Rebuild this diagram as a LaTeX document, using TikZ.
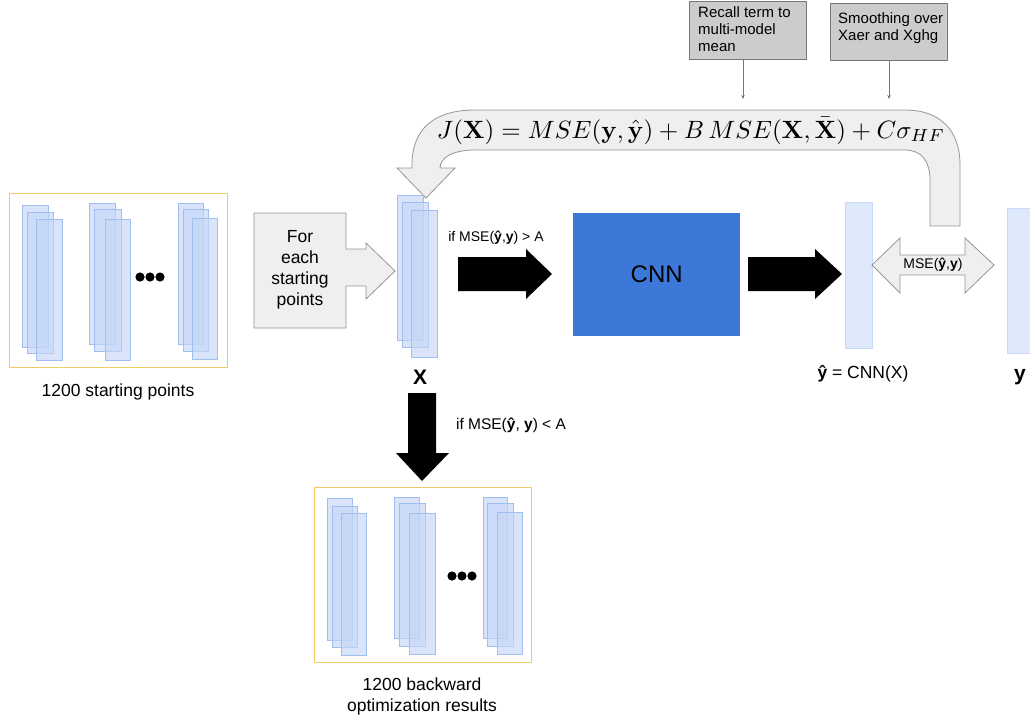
\documentclass[tikz,border=0pt]{standalone}
\usepackage[no-math]{fontspec}
\setmainfont{Liberation Sans}
\usepackage{graphicx}
\usetikzlibrary{arrows.meta}
\definecolor{stackfill}{RGB}{196,214,247}
\definecolor{stackline}{RGB}{160,190,240}
\definecolor{vecfill}{RGB}{221,232,251}
\definecolor{vecline}{RGB}{201,218,248}
\definecolor{yellowline}{RGB}{240,205,100}
\definecolor{arrowgray}{RGB}{239,239,239}
\definecolor{arrowline}{RGB}{150,150,150}
\definecolor{notegray}{RGB}{204,204,204}
\definecolor{noteline}{RGB}{120,120,120}
\definecolor{cnnblue}{RGB}{60,120,216}
\newcommand{\fsz}[2]{\fontsize{#1}{#2}\selectfont}
\newcommand{\srect}[4]{\draw[stackrect] (#1,#2) rectangle (#3,#4);}
\newcommand{\threedots}[2]{\fill (#1-10,#2) circle (4.6) (#1,#2) circle (4.6) (#1+10,#2) circle (4.6);}
\tikzset{
  stackrect/.style={draw=stackline, line width=0.8pt, fill=stackfill, fill opacity=0.65},
  vecbox/.style={draw=vecline, line width=0.8pt, fill=vecfill},
  groupbox/.style={draw=yellowline, line width=1pt},
  grayarrow/.style={draw=arrowline, line width=0.8pt, fill=arrowgray},
  blackarrow/.style={fill=black},
  notebox/.style={draw=noteline, line width=0.8pt, fill=notegray, align=left, anchor=north west,
    inner sep=0pt, font=\fsz{14.5}{17}},
  noteline/.style={draw=noteline, line width=0.8pt, -{Stealth[length=4pt,width=3.5pt]}},
  lbl/.style={font=\fsz{17.5}{21}, align=center, inner sep=0pt},
  smalllbl/.style={font=\fsz{14}{17}, inner sep=0pt},
}
\begin{document}
\begin{tikzpicture}[x=1pt,y=-1pt]
\useasboundingbox (0,0) rectangle (1030,720);
\clip (0,0) rectangle (1030,720);

% notes at top
\node[notebox, minimum width=117pt, minimum height=58pt] (note1) at (689,1) {};
\node[font=\fsz{15}{17}, align=left, anchor=north west, inner sep=0pt] (note1t) at (698,6) {Recall term to\\multi-model\\mean};
\node[notebox, minimum width=117pt, minimum height=57pt] (note2) at (830,3) {};
\node[font=\fsz{15}{17}, align=left, anchor=north west, inner sep=0pt] (note2t) at (838,12) {Smoothing over\\Xaer and Xghg};
\coordinate (n1end) at (743,99);
\coordinate (n2end) at (889,99);
\draw[noteline] (note1.south -| n1end) -- (n1end);
\draw[noteline] (note2.south -| n2end) -- (n2end);

% big curved feedback arrow
\draw[grayarrow] (426,198) -- (397,168) -- (412,168) -- (412,165)
  .. controls (412,128) and (435,110) .. (475,110) -- (905,110)
  .. controls (940,110) and (960,130) .. (960,165) -- (960,226) -- (930,226) -- (930,180)
  .. controls (930,162) and (922,150) .. (905,150) -- (475,150)
  .. controls (452,150) and (440,158) .. (440,168) -- (455,168) -- cycle;
\node (formula) at (691,131) {\resizebox{508pt}{!}{$J(\mathbf{X}) = MSE(\mathbf{y},\hat{\mathbf{y}}) + B\,MSE(\mathbf{X},\bar{\mathbf{X}}) + C\sigma_{HF}$}};

% left group box
\node[groupbox, minimum width=218pt, minimum height=174pt, anchor=north west, inner sep=0pt] (startbox) at (9,193) {};
\srect{22}{205}{48}{347}\srect{27}{212}{53}{353}\srect{36}{219}{62}{360}
\srect{89}{203}{115}{344}\srect{94}{209}{121}{351}\srect{105}{219}{130}{360}
\srect{178}{203}{203}{344}\srect{183}{209}{208}{351}\srect{192}{218}{217}{359}
\threedots{150}{277}
\node[lbl] (startlbl) at (118,392) {1200 starting points};

% for each arrow callout
\draw[grayarrow] (254,213) -- (346,213) -- (346,249) -- (366,249) -- (366,243) -- (395,271)
  -- (366,299) -- (366,286) -- (346,286) -- (346,328) -- (254,328) -- cycle;
\node[lbl] (foreach) at (300,270) {For\\each\\starting\\points};

% X stack
\srect{397}{195}{423}{340}\srect{402}{202}{428}{347}\srect{411}{210}{437}{357}
\node[font=\fsz{21}{24}\bfseries, inner sep=0pt] (xlbl) at (420,377) {X};

% arrow to CNN
\fill[blackarrow] (458,257) -- (526,257) -- (526,249) -- (552,274) -- (526,299) -- (526,291) -- (458,291) -- cycle;
\node[smalllbl] (cond1) at (496,238) {if MSE(\textbf{ŷ},\textbf{y}) > A};

% CNN
\node[fill=cnnblue, minimum width=167pt, minimum height=123pt, anchor=north west, inner sep=0pt] (cnn) at (573,213) {};
\node[font=\fsz{24}{28}, inner sep=0pt] (cnnt) at (cnn.center) {CNN};

% arrow to yhat
\fill[blackarrow] (748,257) -- (815,257) -- (815,249) -- (842,274) -- (815,299) -- (815,291) -- (748,291) -- cycle;

% yhat
\node[vecbox, minimum width=27pt, minimum height=146pt, anchor=north west, inner sep=0pt] (yhat) at (845,202) {};
\node[lbl] (yhatlbl) at (863,374) {\textbf{ŷ} = CNN(X)};

% double arrow
\draw[grayarrow] (872,265) -- (900,238) -- (900,255) -- (965,255) -- (965,238) -- (994,265)
  -- (965,293) -- (965,275) -- (900,275) -- (900,293) -- cycle;
\node[smalllbl] (mse) at (933,265) {MSE(\textbf{ŷ},\textbf{y})};

% y
\node[vecbox, minimum width=33pt, minimum height=145pt, anchor=north west, inner sep=0pt] (yvec) at (1007,208) {};
\node[font=\fsz{21}{24}\bfseries, inner sep=0pt] (ylbl) at (1020,377) {y};

% down arrow
\fill[blackarrow] (408,393) -- (436,393) -- (436,453) -- (449,453) -- (422,481) -- (396,453) -- (408,453) -- cycle;
\node[font=\fsz{15.5}{18}, inner sep=0pt] (cond2) at (511,425) {if MSE(\textbf{ŷ}, \textbf{y}) < A};

% bottom group box
\node[groupbox, minimum width=217pt, minimum height=175pt, anchor=north west, inner sep=0pt] (endbox) at (314,487) {};
\srect{327}{498}{352}{640}\srect{332}{506}{357}{647}\srect{341}{513}{366}{655}
\srect{394}{497}{419}{638}\srect{399}{503}{425}{646}\srect{409}{513}{435}{654}
\srect{483}{497}{507}{638}\srect{487}{503}{513}{646}\srect{497}{512}{522}{654}
\threedots{462}{576}
\node[lbl] (endlbl) at (422,696) {1200 backward\\optimization results};
\end{tikzpicture}
\end{document}
